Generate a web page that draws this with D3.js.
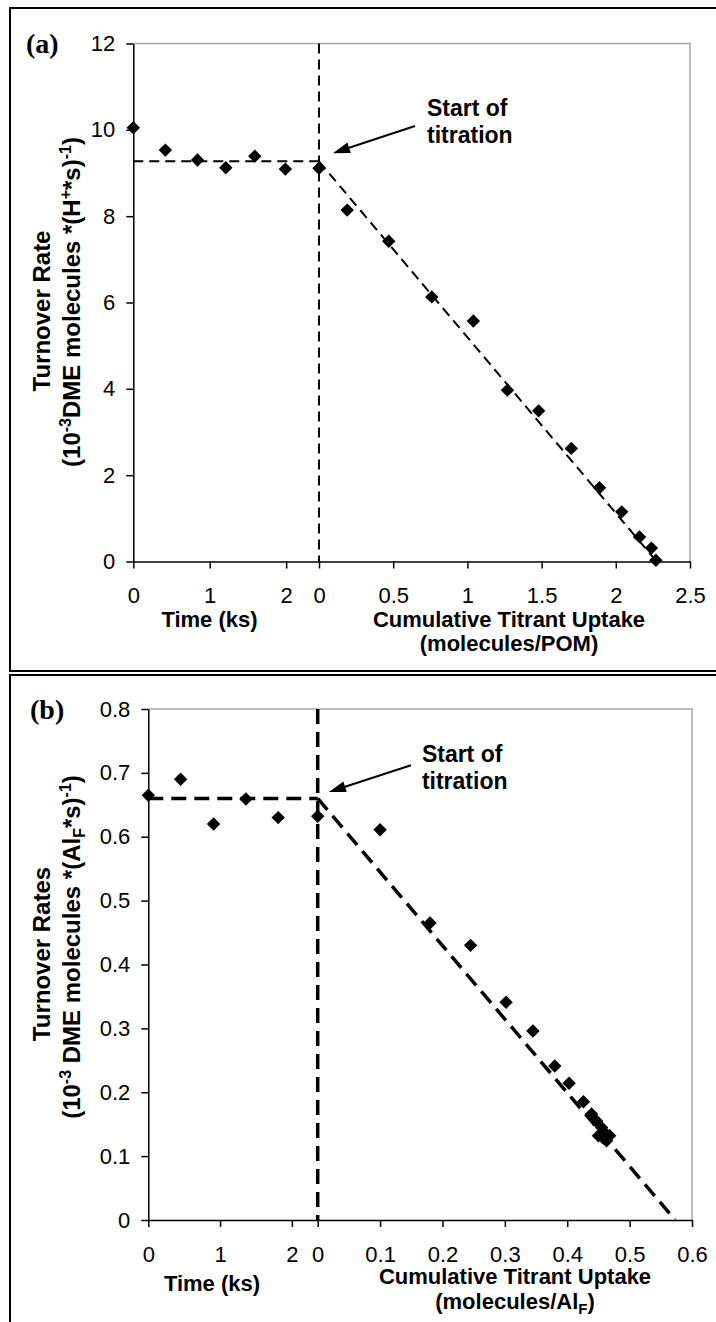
<!DOCTYPE html>
<html>
<head>
<meta charset="utf-8">
<script src="https://cdn.jsdelivr.net/npm/d3@7"></script>
<style>
  body { margin: 0; background: #fff; }
  svg { display: block; }
  text { font-family: "Liberation Sans", Arial, sans-serif; fill: #000; }
</style>
</head>
<body>
<svg id="chart" width="716" height="1322"></svg>
<script>
// ---- panel (a) data ----
var aTimeX = [0, 0.42, 0.84, 1.21, 1.59, 1.99];
var aTimeY = [10.05, 9.53, 9.30, 9.12, 9.39, 9.09];
var aTitrX = [0, 0.19, 0.47, 0.76, 1.04, 1.27, 1.48, 1.70, 1.89, 2.04, 2.16, 2.24, 2.27];
var aTitrY = [9.11, 8.14, 7.42, 6.13, 5.57, 3.97, 3.49, 2.62, 1.71, 1.15, 0.57, 0.31, 0.03];
var aBaseRate = 9.27;      // horizontal dashed line
var aFitZero = 2.275;      // where the fitted line reaches zero
var aYTicks = [0, 2, 4, 6, 8, 10, 12];
var aTimeTicks = [0, 1, 2];
var aTitrTicks = [0, 0.5, 1, 1.5, 2, 2.5];

// ---- panel (b) data ----
var bTimeX = [0, 0.45, 0.91, 1.36, 1.81];
var bTimeY = [0.665, 0.690, 0.620, 0.659, 0.630];
var bTitrX = [0, 0.10, 0.18, 0.245, 0.302, 0.345, 0.380, 0.403, 0.426, 0.439, 0.447, 0.455, 0.450, 0.460, 0.468, 0.463, 0.458];
var bTitrY = [0.632, 0.611, 0.465, 0.430, 0.341, 0.296, 0.241, 0.214, 0.185, 0.166, 0.155, 0.145, 0.132, 0.137, 0.132, 0.124, 0.128];
var bBaseRate = 0.66;
var bFitZero = 0.573;
var bYTicks = [0, 0.1, 0.2, 0.3, 0.4, 0.5, 0.6, 0.7, 0.8];
var bTimeTicks = [0, 1, 2];
var bTitrTicks = [0, 0.1, 0.2, 0.3, 0.4, 0.5, 0.6];

var svg = d3.select("#chart");

// panel boxes
svg.append("path")
  .attr("d", "M716,8H10V671H716M716,675H10V1322")
  .attr("fill", "none").attr("stroke", "#000").attr("stroke-width", 2);

var fmt1 = function(d){ return d === 0 ? "0" : d3.format(".1f")(d); };

// pieces: [text, "n" | "sup" | "sub"]
function rich(t, pieces, small) {
  var shift = 0;
  pieces.forEach(function(p){
    var want = p[1] === "sup" ? -9 : p[1] === "sub" ? 5 : 0;
    var ts = t.append("tspan").attr("dy", want - shift).text(p[0]);
    if (p[1] !== "n") ts.style("font-size", small);
    shift = want;
  });
}

function drawPanel(c) {
  var g = svg.append("g");
  var xT = d3.scaleLinear().domain([0, c.timeMax]).range([c.left, c.split]);
  var xC = d3.scaleLinear().domain([0, c.titrMax]).range([c.split, c.right]);
  var y = d3.scaleLinear().domain([0, c.yMax]).range([c.bottom, c.top]);

  // grey top / right frame
  g.append("path")
    .attr("d", "M" + c.left + "," + c.top + "H" + c.right + "V" + c.bottom)
    .attr("fill", "none").attr("stroke", "#a8a8a8").attr("stroke-width", 1.5);

  // axes
  var ya = g.append("g").attr("transform", "translate(" + c.left + ",0)")
    .call(d3.axisLeft(y).tickValues(c.yTicks).tickFormat(c.yFmt).tickSize(7).tickPadding(11).tickSizeOuter(0));
  var xa1 = g.append("g").attr("transform", "translate(0," + c.bottom + ")")
    .call(d3.axisBottom(xT).tickValues(c.timeTicks).tickFormat(d3.format("d")).tickSize(7).tickPadding(19).tickSizeOuter(0));
  var xa2 = g.append("g").attr("transform", "translate(0," + c.bottom + ")")
    .call(d3.axisBottom(xC).tickValues(c.titrTicks).tickFormat(c.xFmt).tickSize(7).tickPadding(19).tickSizeOuter(0));
  [ya, xa1, xa2].forEach(function(a){
    a.attr("font-family", null).attr("font-size", null);
    a.selectAll("path, line").attr("stroke", "#000").attr("stroke-width", 1.5);
    a.selectAll("text").style("font-size", "22px");
  });

  // dashed guide lines
  function dashed(pts, sx) {
    g.append("path")
      .attr("d", d3.line().x(function(d){ return sx(d[0]); }).y(function(d){ return y(d[1]); })(pts))
      .attr("stroke", "#000").attr("fill", "none")
      .attr("stroke-width", c.dashW).attr("stroke-dasharray", c.dashArr);
  }
  dashed([[0, c.base], [c.timeMax, c.base]], xT);
  dashed([[0, c.yMax], [0, 0]], xC);
  dashed([[0, c.base], [c.fitZero, 0]], xC);

  // markers
  var sym = d3.symbol().type(d3.symbolSquare).size(90);
  function markers(xs, ys, sx) {
    g.selectAll(null).data(d3.range(xs.length)).enter().append("path")
      .attr("d", sym)
      .attr("transform", function(i){ return "translate(" + sx(xs[i]) + "," + y(ys[i]) + ") rotate(45)"; })
      .attr("fill", "#000");
  }
  markers(c.timeX, c.timeY, xT);
  markers(c.titrX, c.titrY, xC);

  // annotation
  var tx = xC(c.note.tip[0]), ty = y(c.note.tip[1]);
  var sx = xC(c.note.tail[0]), sy = y(c.note.tail[1]);
  var ang = Math.atan2(ty - sy, tx - sx);
  var hl = 17, hw = 5.5;
  var bx = tx - hl * Math.cos(ang), by = ty - hl * Math.sin(ang);
  g.append("line").attr("x1", sx).attr("y1", sy).attr("x2", bx).attr("y2", by)
    .attr("stroke", "#000").attr("stroke-width", 2);
  g.append("path")
    .attr("d", "M" + tx + "," + ty +
      "L" + (bx + hw * Math.sin(ang)) + "," + (by - hw * Math.cos(ang)) +
      "L" + (bx - hw * Math.sin(ang)) + "," + (by + hw * Math.cos(ang)) + "Z")
    .attr("fill", "#000");
  var nt = g.append("text").attr("x", xC(c.note.at[0])).attr("y", y(c.note.at[1]))
    .style("font-size", "23px").style("font-weight", "bold");
  nt.append("tspan").text("Start of");
  nt.append("tspan").attr("x", xC(c.note.at[0])).attr("dy", 27).text("titration");

  // panel label
  g.append("text").attr("x", c.labelPos[0]).attr("y", c.labelPos[1])
    .style("font-family", "'Liberation Serif', 'Times New Roman', serif")
    .style("font-weight", "bold").style("font-size", "28px").text(c.label);

  // x titles
  g.append("text").attr("x", c.timeTitle[0]).attr("y", c.timeTitle[1])
    .attr("text-anchor", "middle").style("font-size", "22px").style("font-weight", "bold")
    .text("Time (ks)");
  g.append("text").attr("x", c.titrTitle[0]).attr("y", c.titrTitle[1])
    .attr("text-anchor", "middle").style("font-size", "22px").style("font-weight", "bold")
    .text("Cumulative Titrant Uptake");
  var t2 = g.append("text").attr("x", c.titrTitle[0]).attr("y", c.titrTitle[2])
    .attr("text-anchor", "middle").style("font-size", "22px").style("font-weight", "bold");
  rich(t2, c.titrUnit, "15px");

  // y titles
  g.append("text")
    .attr("transform", "translate(50," + c.yTitleY[0] + ") rotate(-90)")
    .attr("text-anchor", "middle").style("font-size", "24px").style("font-weight", "bold")
    .text(c.yTitle1);
  var yt2 = g.append("text")
    .attr("transform", "translate(80," + c.yTitleY[1] + ") rotate(-90)")
    .attr("text-anchor", "middle").style("font-size", "24px").style("font-weight", "bold");
  rich(yt2, c.yTitle2, "16px");
}

drawPanel({
  left: 133.3, split: 319, right: 690, top: 43.5, bottom: 561.5,
  timeMax: 2.43, titrMax: 2.5, yMax: 12,
  yTicks: aYTicks, timeTicks: aTimeTicks, titrTicks: aTitrTicks,
  yFmt: d3.format("d"), xFmt: function(d){ return String(d); },
  timeX: aTimeX, timeY: aTimeY, titrX: aTitrX, titrY: aTitrY,
  base: aBaseRate, fitZero: aFitZero,
  dashW: 2, dashArr: "10,6",
  note: { tip: [0.094, 9.46], tail: [0.647, 10.09], at: [0.728, 10.32] },
  label: "(a)", labelPos: [26, 53],
  timeTitle: [209.5, 627], titrTitle: [509, 627, 651],
  titrUnit: [["(molecules/POM)", "n"]],
  yTitleY: [311, 302],
  yTitle1: "Turnover Rate",
  yTitle2: [["(10", "n"], ["-3", "sup"], ["DME molecules *(H", "n"], ["+", "sup"],
            ["*s)", "n"], ["-1", "sup"], [")", "n"]]
});

drawPanel({
  left: 148.3, split: 317.7, right: 692, top: 709, bottom: 1220,
  timeMax: 2.36, titrMax: 0.6, yMax: 0.8,
  yTicks: bYTicks, timeTicks: bTimeTicks, titrTicks: bTitrTicks,
  yFmt: fmt1, xFmt: fmt1,
  timeX: bTimeX, timeY: bTimeY, titrX: bTitrX, titrY: bTitrY,
  base: bBaseRate, fitZero: bFitZero,
  dashW: 3.5, dashArr: "15,8",
  note: { tip: [0.018, 0.670], tail: [0.1495, 0.712], at: [0.167, 0.7175] },
  label: "(b)", labelPos: [30, 719],
  timeTitle: [212, 1291], titrTitle: [515, 1284, 1309],
  titrUnit: [["(molecules/Al", "n"], ["F", "sub"], [")", "n"]],
  yTitleY: [954, 947],
  yTitle1: "Turnover Rates",
  yTitle2: [["(10", "n"], ["-3", "sup"], [" DME molecules *(Al", "n"], ["F", "sub"],
            ["*s)", "n"], ["-1", "sup"], [")", "n"]]
});
</script>
</body>
</html>
